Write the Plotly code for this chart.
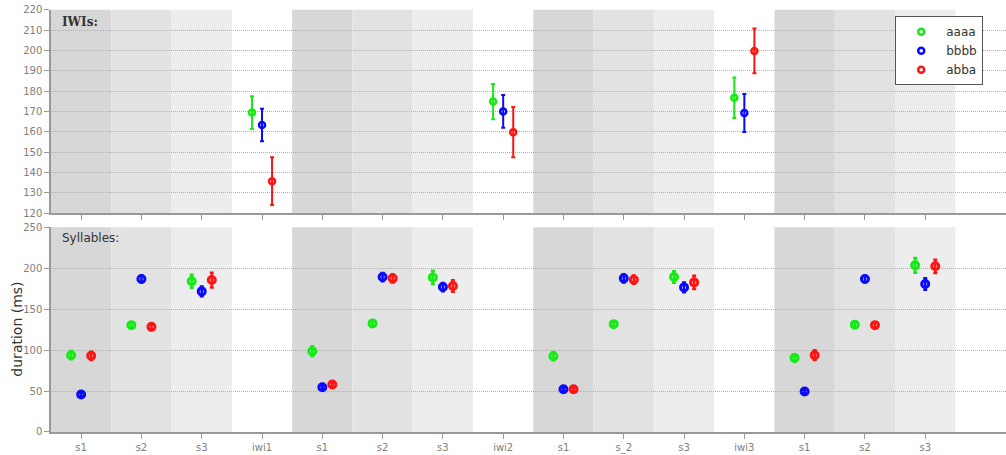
import plotly.graph_objects as go

categories = ["s1", "s2", "s3", "iwi1", "s1", "s2", "s3", "iwi2",
              "s1", "s_2", "s3", "iwi3", "s1", "s2", "s3"]
series_names = ["aaaa", "bbbb", "abba"]
series_colors = ["rgb(20,235,20)", "rgb(10,10,255)", "rgb(255,20,20)"]

# Syllable positions (indices into categories) and values
syl_idx = [0, 1, 2, 4, 5, 6, 8, 9, 10, 12, 13, 14]
syl_aaaa = [93.8, 130.5, 184.0, 98.7, 132.6, 188.8, 92.6, 131.7, 189.2, 90.5, 130.9, 203.5]
syl_bbbb = [45.7, 186.8, 171.7, 54.7, 189.2, 177.0, 52.2, 187.6, 176.6, 49.4, 186.8, 180.7]
syl_abba = [93.0, 128.4, 185.5, 58.0, 187.6, 178.2, 52.2, 186.0, 182.7, 93.8, 130.5, 202.3]
syl_aaaa_err = [5, 3, 8, 6, 3, 8, 5, 3, 7, 4, 3, 9]
syl_bbbb_err = [2, 4, 6, 2, 5, 5, 2, 5, 6, 2, 4, 7]
syl_abba_err = [5, 3, 9, 2, 5, 7, 2, 5, 8, 6, 3, 8]

# IWI positions and values
iwi_idx = [3, 7, 11]
iwi_aaaa = [169.5, 174.9, 176.8]
iwi_bbbb = [163.4, 170.1, 169.3]
iwi_abba = [135.8, 159.9, 199.8]
iwi_aaaa_err = [8.0, 8.7, 10.0]
iwi_bbbb_err = [8.0, 8.0, 9.3]
iwi_abba_err = [11.7, 12.4, 11.0]

iwi_ticks = [120, 130, 140, 150, 160, 170, 180, 190, 200, 210, 220]
syl_ticks = [0, 50, 100, 150, 200, 250]

offsets = [-1 / 6, 0.0, 1 / 6]

syl_vals = [syl_aaaa, syl_bbbb, syl_abba]
syl_errs = [syl_aaaa_err, syl_bbbb_err, syl_abba_err]
iwi_vals = [iwi_aaaa, iwi_bbbb, iwi_abba]
iwi_errs = [iwi_aaaa_err, iwi_bbbb_err, iwi_abba_err]

fig = go.Figure()

for k, name in enumerate(series_names):
    col = series_colors[k]
    fig.add_trace(go.Scatter(
        x=[i + offsets[k] for i in iwi_idx], y=iwi_vals[k],
        error_y=dict(type="data", array=iwi_errs[k], color=col, thickness=2, width=2),
        mode="markers", name=name, legendgroup=name, showlegend=True,
        marker=dict(symbol="circle-open", size=6, color=col, line=dict(width=2.5, color=col)),
        xaxis="x", yaxis="y"))
    fig.add_trace(go.Scatter(
        x=[i + offsets[k] for i in syl_idx], y=syl_vals[k],
        error_y=dict(type="data", array=syl_errs[k], color=col, thickness=2.5, width=2),
        mode="markers", name=name, legendgroup=name, showlegend=False,
        marker=dict(symbol="circle-open", size=7, color=col, line=dict(width=3, color=col)),
        xaxis="x2", yaxis="y2"))

# background bands per category
band_colors = {0: "#d7d7d7", 1: "#e2e2e2", 2: "#ededed"}
shapes = []
for i, c in enumerate(categories):
    pos = i % 4
    if pos == 3:
        continue
    for xr_, yr_ in (("x", "y domain"), ("x2", "y2 domain")):
        shapes.append(dict(type="rect", xref=xr_, yref=yr_, x0=i - 0.5, x1=i + 0.5,
                           y0=0, y1=1, fillcolor=band_colors[pos],
                           line=dict(width=0), layer="below"))

xr = [-0.5, 15.34]
axis_common = dict(showline=True, linecolor="#999999", linewidth=1.5,
                   ticks="outside", ticklen=5, tickcolor="#999999", automargin=False,
                   tickfont=dict(family="DejaVu Sans", size=10, color="#808080"))

fig.update_layout(
    width=1006, height=455,
    margin=dict(l=51, r=0, t=9, b=23),
    paper_bgcolor="white", plot_bgcolor="white",
    shapes=shapes,
    showlegend=True,
    legend=dict(x=0.884, y=0.983, xanchor="left", yanchor="top",
                bgcolor="white", bordercolor="#555555", borderwidth=1,
                font=dict(family="DejaVu Sans", size=12, color="#333333"),
                itemwidth=40, entrywidth=78, entrywidthmode="pixels", tracegroupgap=0),
    xaxis=dict(domain=[0, 1], range=xr, anchor="y",
               tickvals=list(range(len(categories))), ticktext=[""] * len(categories),
               showgrid=False, zeroline=False, **axis_common),
    yaxis=dict(domain=[0.517, 0.998], range=[120, 220], anchor="x",
               tickvals=iwi_ticks, showgrid=True, gridcolor="#b0b0b0", griddash="1px,1px",
               gridwidth=1, zeroline=False, **axis_common),
    xaxis2=dict(domain=[0, 1], range=xr, anchor="y2",
                tickvals=list(range(len(categories))), ticktext=categories,
                showgrid=False, zeroline=False, **axis_common),
    yaxis2=dict(domain=[0, 0.484], range=[0, 250], anchor="x2",
                tickvals=syl_ticks, showgrid=True, gridcolor="#b0b0b0", griddash="1px,1px",
                gridwidth=1, zeroline=False, **axis_common),
    annotations=[
        dict(text="<b>IWIs:</b>", xref="paper", yref="y domain", x=0.009, y=0.985,
             xanchor="left", yanchor="top", showarrow=False,
             font=dict(family="DejaVu Serif", size=12, color="#333333")),
        dict(text="Syllables:", xref="paper", yref="y2 domain", x=0.009, y=0.99,
             xanchor="left", yanchor="top", showarrow=False,
             font=dict(family="DejaVu Sans", size=12, color="#333333")),
        dict(text="duration (ms)", xref="paper", yref="y2 domain", x=-0.0356, y=0.5,
             xanchor="center", yanchor="middle", textangle=-90, showarrow=False,
             font=dict(family="DejaVu Sans", size=14, color="#333333")),
    ],
)

fig.write_html("out.html", config={"displayModeBar": False},
               post_script="document.body.style.margin='0';")
